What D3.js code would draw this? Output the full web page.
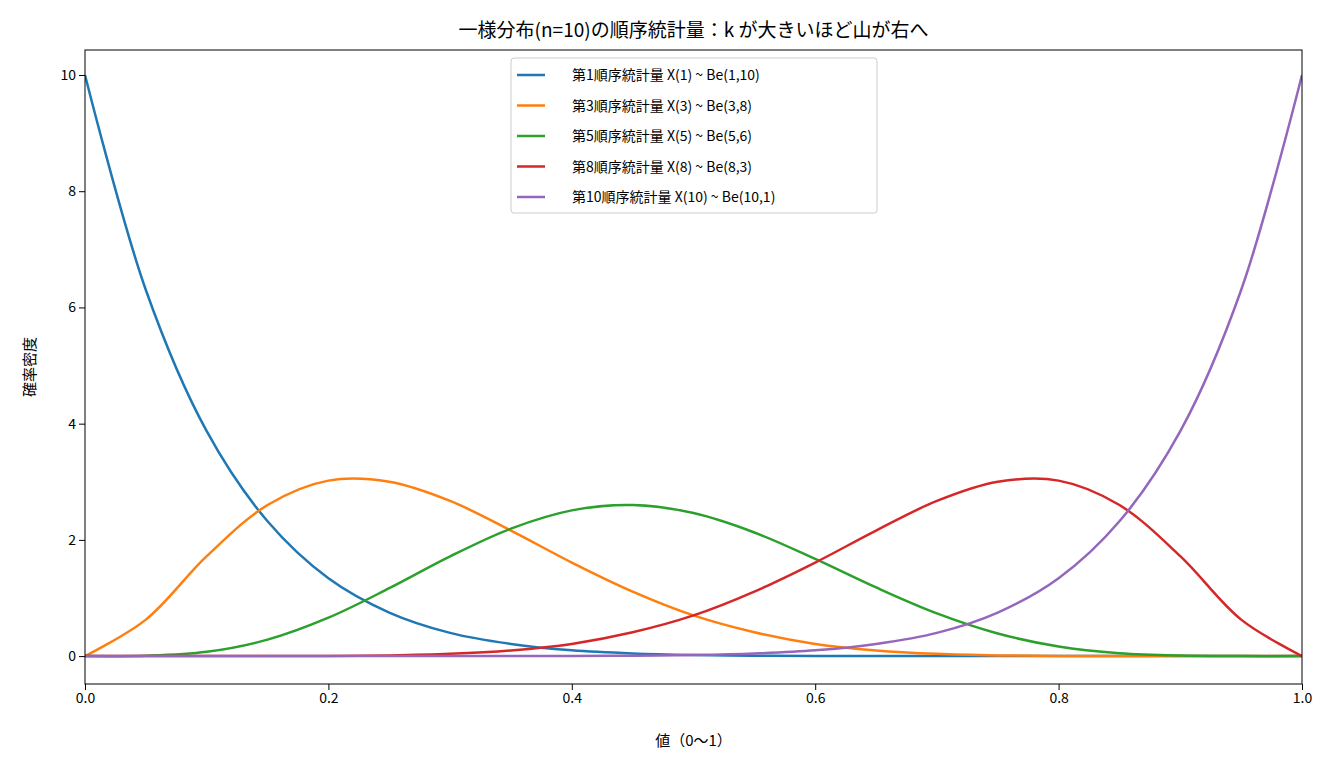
<!DOCTYPE html><html><head><meta charset="utf-8">
<script src="https://cdn.jsdelivr.net/npm/d3@7"></script>
<style>body{margin:0;background:#fff}text{font-family:"Noto Sans CJK JP",sans-serif}</style></head><body>
<svg id="c" width="1333" height="764"></svg>
<script>
const xs=[0,.05,.1,.15,.2,.25,.3,.35,.4,.45,.5,.55,.6,.65,.7,.75,.8,.85,.9,.95,1];
const be1_10=[10,6.30,3.87,2.32,1.34,0.75,0.40,0.21,0.10,0.046,0.02,0.008,0.003,0.001,0,0,0,0,0,0,0];
const be3_8=[0,0.628,1.72,2.60,3.02,3.00,2.67,2.16,1.61,1.11,0.70,0.41,0.21,0.098,0.039,0.012,0.003,0,0,0,0];
const be5_6=[0,0.0061,0.074,0.283,0.661,1.168,1.716,2.194,2.508,2.600,2.461,2.127,1.672,1.181,0.735,0.389,0.165,0.050,0.0083,0.0003,0];
const be8_3=[0,0,0,0,0.003,0.012,0.039,0.098,0.21,0.41,0.70,1.11,1.61,2.16,2.67,3.00,3.02,2.60,1.72,0.628,0];
const be10_1=[0,0,0,0,0,0,0,0.001,0.003,0.008,0.02,0.046,0.10,0.21,0.40,0.75,1.34,2.32,3.87,6.30,10];
const labels=["第1順序統計量 X(1) ~ Be(1,10)","第3順序統計量 X(3) ~ Be(3,8)","第5順序統計量 X(5) ~ Be(5,6)","第8順序統計量 X(8) ~ Be(8,3)","第10順序統計量 X(10) ~ Be(10,1)"];
const colors=["#1f77b4","#ff7f0e","#2ca02c","#d62728","#9467bd"];
const series=[be1_10,be3_8,be5_6,be8_3,be10_1];
const xTicks=[0,.2,.4,.6,.8,1],yTicks=[0,2,4,6,8,10];
const L=85,R=1302,T=50,B=684;
const svg=d3.select("#c");
const x=d3.scaleLinear().domain([0,1]).range([L,R]);
const y=d3.scaleLinear().domain([-0.48,10.43]).range([B,T]);
const line=d3.line().x(d=>x(d[0])).y(d=>y(d[1])).curve(d3.curveCatmullRom);
const g=svg.append("g").attr("clip-path","url(#cp)");
svg.append("clipPath").attr("id","cp").append("rect").attr("x",L).attr("y",T).attr("width",R-L).attr("height",B-T);
series.forEach((s,i)=>g.append("path").attr("d",line(xs.map((v,j)=>[v,s[j]]))).attr("fill","none").attr("stroke",colors[i]).attr("stroke-width",2.5));
const ax=svg.append("g").attr("transform",`translate(0,${B})`).call(d3.axisBottom(x).tickValues(xTicks).tickFormat(d3.format(".1f")).tickSizeOuter(0));
const ay=svg.append("g").attr("transform",`translate(${L},0)`).call(d3.axisLeft(y).tickValues(yTicks).tickSizeOuter(0));
[ax,ay].forEach(a=>{a.selectAll("text").attr("font-size",14).attr("fill","#000");a.select(".domain").remove();});
svg.append("rect").attr("x",L).attr("y",T).attr("width",R-L).attr("height",B-T).attr("fill","none").attr("stroke","#000");
svg.append("text").attr("x",(L+R)/2).attr("y",37).attr("text-anchor","middle").attr("font-size",19).text("一様分布(n=10)の順序統計量：k が大きいほど山が右へ");
svg.append("text").attr("x",(L+R)/2).attr("y",746).attr("text-anchor","middle").attr("font-size",15).text("値（0〜1）");
svg.append("text").attr("transform",`translate(35,${(T+B)/2}) rotate(-90)`).attr("text-anchor","middle").attr("font-size",15).text("確率密度");
const lg=svg.append("g").attr("transform","translate(511,58)");
lg.append("rect").attr("width",366).attr("height",155).attr("rx",3).attr("fill","#fff").attr("fill-opacity",0.85).attr("stroke","#ccc");
labels.forEach((t,i)=>{const yy=17+i*30.5;
lg.append("line").attr("x1",6).attr("x2",34).attr("y1",yy).attr("y2",yy).attr("stroke",colors[i]).attr("stroke-width",2.5);
lg.append("text").attr("x",61).attr("y",yy+5).attr("font-size",14).text(t);});
</script></body></html>
